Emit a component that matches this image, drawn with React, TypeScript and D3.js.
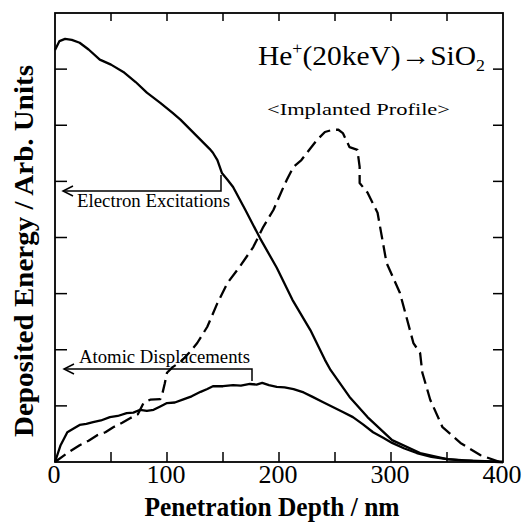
import React from "react";
import * as d3 from "d3";

// Depth in nm, deposited energy in arbitrary units (tick units 0..8)
const electronDepth = [0, 4, 9, 15, 22, 30, 40, 50, 61, 72, 82, 94, 105, 112, 118, 130, 138, 141, 145, 149, 154, 159, 170, 183, 198, 212, 228, 241, 246, 263, 279, 301, 326, 350, 373, 397, 400];
const electronEnergy = [7.34, 7.5, 7.54, 7.52, 7.47, 7.35, 7.17, 7.08, 6.95, 6.77, 6.58, 6.4, 6.22, 6.1, 5.98, 5.74, 5.58, 5.51, 5.38, 5.15, 5.03, 4.9, 4.49, 3.99, 3.46, 2.89, 2.35, 1.82, 1.64, 1.16, 0.8, 0.39, 0.16, 0.05, 0.02, 0.0, 0.0];

const displacementDepth = [0, 5, 11, 17, 22, 28, 34, 41, 49, 56, 64, 70, 76, 82, 88, 94, 100, 107, 114, 122, 130, 136, 141, 150, 159, 166, 174, 180, 185, 191, 198, 205, 213, 222, 230, 239, 248, 257, 266, 275, 284, 293, 301, 312, 323, 336, 350, 363, 377, 390, 400];
const displacementEnergy = [0, 0.3, 0.53, 0.6, 0.66, 0.68, 0.71, 0.74, 0.8, 0.82, 0.87, 0.88, 0.93, 0.91, 0.93, 0.99, 1.05, 1.06, 1.11, 1.17, 1.25, 1.3, 1.35, 1.35, 1.37, 1.36, 1.39, 1.38, 1.41, 1.37, 1.34, 1.33, 1.3, 1.24, 1.16, 1.07, 0.98, 0.89, 0.8, 0.67, 0.53, 0.43, 0.34, 0.24, 0.16, 0.09, 0.05, 0.03, 0.02, 0.01, 0.0];

const implantDepth = [0, 11, 22, 30, 38, 45, 52, 60, 67, 74, 79, 85, 94, 96, 98, 100, 105, 112, 120, 127, 136, 145, 154, 165, 177, 186, 195, 204, 207, 213, 220, 225, 234, 241, 248, 253, 257, 263, 270, 272, 272, 279, 288, 296, 308, 320, 326, 328, 335, 346, 362, 380, 397, 400];
const implantEnergy = [0, 0.16, 0.3, 0.38, 0.48, 0.53, 0.62, 0.7, 0.78, 0.85, 1.05, 1.11, 1.12, 1.23, 1.4, 1.59, 1.69, 1.78, 1.95, 2.12, 2.41, 2.83, 3.19, 3.48, 3.83, 4.19, 4.49, 4.9, 5.03, 5.26, 5.38, 5.51, 5.74, 5.88, 5.92, 5.92, 5.86, 5.61, 5.56, 5.26, 4.97, 4.8, 4.44, 3.55, 3.01, 2.12, 1.94, 1.59, 1.11, 0.62, 0.34, 0.12, 0.0, 0.0];

const xTickValues = [0, 50, 100, 150, 200, 250, 300, 350, 400];
const xTickLabels = ["0", "100", "200", "300", "400"];
const yTickValues = [1, 2, 3, 4, 5, 6, 7];

const W = 531;
const H = 522;
const left = 55, right = 503, top = 13, bottom = 462;

export default function App() {
  const x = d3.scaleLinear().domain([0, 400]).range([left, right]);
  const y = d3.scaleLinear().domain([0, 8]).range([bottom, top]);
  const line = d3
    .line<[number, number]>()
    .x((d) => x(d[0]))
    .y((d) => y(d[1]))
    .curve(d3.curveLinear);

  const zip = (a: number[], b: number[]) => a.map((v, i) => [v, b[i]] as [number, number]);
  const serif = '"Liberation Serif", "Times New Roman", "DejaVu Serif", serif';
  const ts = { fontFamily: serif } as React.CSSProperties;

  const labelVals = [0, 100, 200, 300, 400];

  return (
    <svg width={W} height={H} style={{ position: "absolute", left: 0, top: 0, background: "#fff", fontFamily: serif }}>
      <rect x={0} y={0} width={W} height={H} fill="#fff" />
      {/* frame */}
      <rect x={left} y={top} width={right - left} height={bottom - top} fill="none" stroke="#000" strokeWidth={1.8} />
      {/* x ticks bottom and top */}
      {xTickValues.slice(1, -1).map((t) => (
        <g key={"xt" + t}>
          <line x1={x(t)} x2={x(t)} y1={bottom} y2={bottom - 10} stroke="#000" strokeWidth={1.5} />
          <line x1={x(t)} x2={x(t)} y1={top} y2={top + 8} stroke="#000" strokeWidth={1.5} />
        </g>
      ))}
      {/* y ticks left and right */}
      {yTickValues.map((t) => (
        <g key={"yt" + t}>
          <line x1={left} x2={left + 12} y1={y(t)} y2={y(t)} stroke="#000" strokeWidth={1.5} />
          <line x1={right} x2={right - 10} y1={y(t)} y2={y(t)} stroke="#000" strokeWidth={1.5} />
        </g>
      ))}
      {/* x tick labels */}
      {labelVals.map((v, i) => (
        <text key={"xl" + v} x={x(v) - 1} y={483} textAnchor="middle" fontSize={26} fill="#000" style={ts}>
          {xTickLabels[i]}
        </text>
      ))}
      {/* axis titles */}
      <text x={272} y={516} textAnchor="middle" fontSize={28} fontWeight="bold" fill="#000" textLength={255} lengthAdjust="spacingAndGlyphs" style={ts}>
        Penetration  Depth / nm
      </text>
      <text
        transform="translate(33,251) rotate(-90)"
        textAnchor="middle"
        fontSize={28}
        fontWeight="bold"
        fill="#000"
        textLength={372}
        lengthAdjust="spacingAndGlyphs"
        style={ts}
      >
        Deposited  Energy / Arb. Units
      </text>

      {/* curves */}
      <path d={line(zip(electronDepth, electronEnergy)) || ""} fill="none" stroke="#000" strokeWidth={2.3} strokeLinejoin="round" />
      <path d={line(zip(displacementDepth, displacementEnergy)) || ""} fill="none" stroke="#000" strokeWidth={2.3} strokeLinejoin="round" />
      <path d={line(zip(implantDepth, implantEnergy)) || ""} fill="none" stroke="#000" strokeWidth={2.3} strokeDasharray="13,6" strokeLinejoin="round" />

      {/* title */}
      <text x={258} y={65} fontSize={28} fill="#000" style={ts} textLength={227} lengthAdjust="spacingAndGlyphs">
        He<tspan dy={-11} fontSize={17}>+</tspan>
        <tspan dy={11}>(20keV)→SiO</tspan>
        <tspan dy={6} fontSize={17}>2</tspan>
      </text>
      <text x={267} y={115} fontSize={17} fill="#000" textLength={183} lengthAdjust="spacingAndGlyphs" style={ts}>
        {"<Implanted  Profile>"}
      </text>

      {/* Electron excitations annotation */}
      <text x={77} y={207} fontSize={18} fill="#000" textLength={153} lengthAdjust="spacingAndGlyphs" style={ts}>
        Electron  Excitations
      </text>
      <path d="M221,175 L221,191 L63,191" fill="none" stroke="#000" strokeWidth={1.5} />
      <path d="M73,186 L63,191 L73,196" fill="none" stroke="#000" strokeWidth={1.5} />

      {/* Atomic displacements annotation */}
      <text x={79} y={363} fontSize={18} fill="#000" textLength={171} lengthAdjust="spacingAndGlyphs" style={ts}>
        Atomic  Displacements
      </text>
      <path d="M252,381 L252,369 L64,369" fill="none" stroke="#000" strokeWidth={1.5} />
      <path d="M74,364 L64,369 L74,374" fill="none" stroke="#000" strokeWidth={1.5} />
    </svg>
  );
}
